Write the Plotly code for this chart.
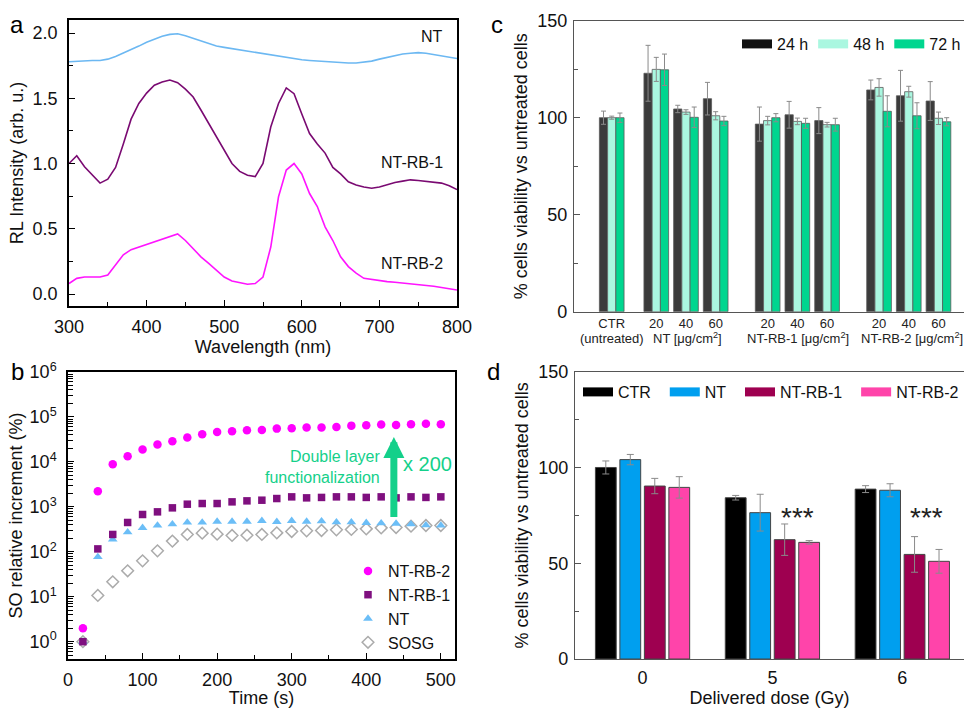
import plotly.graph_objects as go
import math

# ---------------- Panel a: RL spectra ----------------
wavelength = list(range(300, 801, 10))
rl_nt = [1.78, 1.785, 1.79, 1.79, 1.79, 1.80, 1.82, 1.845, 1.87, 1.90,
         1.93, 1.955, 1.975, 1.99, 1.995, 1.98, 1.96, 1.94, 1.92, 1.90,
         1.89, 1.88, 1.87, 1.86, 1.85, 1.845, 1.835, 1.82, 1.81, 1.80,
         1.795, 1.79, 1.785, 1.78, 1.775, 1.77, 1.77, 1.77, 1.775, 1.785,
         1.80, 1.815, 1.83, 1.84, 1.845, 1.85, 1.845, 1.835, 1.825, 1.815, 1.805]
rl_rb1 = [1.00, 1.06, 0.975, 0.91, 0.85, 0.88, 0.97, 1.15, 1.34, 1.46,
          1.54, 1.60, 1.625, 1.64, 1.62, 1.57, 1.51, 1.41, 1.31, 1.20,
          1.10, 1.00, 0.94, 0.91, 0.90, 1.00, 1.28, 1.46, 1.58, 1.535,
          1.38, 1.23, 1.15, 1.08, 0.97, 0.92, 0.86, 0.835, 0.82, 0.81,
          0.82, 0.84, 0.855, 0.865, 0.875, 0.87, 0.865, 0.86, 0.85, 0.83, 0.80]
rl_rb2 = [0.08, 0.12, 0.13, 0.13, 0.13, 0.145, 0.22, 0.30, 0.34, 0.36,
          0.385, 0.405, 0.425, 0.44, 0.46, 0.41, 0.35, 0.285, 0.235, 0.18,
          0.13, 0.10, 0.085, 0.075, 0.08, 0.13, 0.36, 0.745, 0.95, 1.00,
          0.92, 0.77, 0.67, 0.515, 0.41, 0.285, 0.21, 0.16, 0.12, 0.11,
          0.10, 0.095, 0.09, 0.085, 0.08, 0.075, 0.065, 0.06, 0.05, 0.04, 0.03]

# ---------------- Panel b: SO relative increment ----------------
time_s = list(range(20, 501, 20))
so_rb2 = [2.0, 2230, 8870, 13400, 18800, 24300, 28800, 34700, 41200, 46400,
          47900, 50300, 51300, 55000, 56000, 58000, 58000, 60000, 64100, 65300,
          67600, 66000, 68700, 70800, 68700]
so_rb1 = [1.0, 116, 243, 449, 676, 774, 950, 1146, 1186, 1186,
          1291, 1359, 1406, 1531, 1668, 1585, 1620, 1668, 1668, 1620,
          1668, 1585, 1668, 1620, 1668]
so_nt = [1.0, 77, 188, 273, 341, 385, 412, 449, 449, 472,
         472, 472, 489, 464, 489, 472, 480, 456, 456, 441,
         434, 426, 412, 392, 385]
so_sosg = [1.0, 10.7, 21.5, 37.8, 63, 105, 173, 243, 260, 247,
           231, 234, 243, 264, 283, 293, 298, 308, 314, 324,
           341, 347, 372, 385, 385]
arrow_from = 550
arrow_to = 36000
arrow_time = 437

# ---------------- Panel c: viability vs concentration ----------------
c_ticklabels = ["CTR", "20", "40", "60", "20", "40", "60", "20", "40", "60"]
c_groups = ["(untreated)", "NT [μg/cm<sup>2</sup>]", "NT-RB-1 [μg/cm<sup>2</sup>]", "NT-RB-2 [μg/cm<sup>2</sup>]"]
via_24 = [100, 122.9, 104.5, 109.8, 96.7, 101.5, 98.5, 114.3, 111.3, 108.6]
err_24 = [3.4, 14.4, 1.9, 8.4, 8.8, 6.9, 6.7, 5.1, 13.1, 10.0]
via_48 = [100, 124.9, 102.9, 101.0, 98.5, 98.1, 96.4, 115.6, 113.4, 99.7]
err_48 = [0.8, 6.2, 1.2, 2.1, 2.2, 1.7, 1.2, 4.5, 2.8, 3.2]
via_72 = [100, 124.7, 100.2, 98.3, 100.0, 97.1, 96.4, 103.3, 101.0, 97.9]
err_72 = [2.4, 8.1, 5.3, 2.4, 2.1, 2.6, 3.3, 8.0, 6.7, 2.1]

# ---------------- Panel d: viability vs dose ----------------
dose = ["0", "5", "6"]
d_ctr = [100, 84.2, 88.7]
d_ctr_err = [3.4, 1.2, 1.8]
d_nt = [104.1, 76.4, 88.1]
d_nt_err = [2.7, 9.6, 3.4]
d_rb1 = [90.3, 62.3, 54.6]
d_rb1_err = [4.0, 8.2, 9.3]
d_rb2 = [89.6, 60.9, 51.0]
d_rb2_err = [5.6, 0.9, 6.2]

# ---------------- layout helpers ----------------
W, H = 964, 708
FONT = "Liberation Sans, Arial, sans-serif"
GREEN = "#14D08A"

def px_x(p):
    return p / W

def px_y(p):
    return 1 - p / H

# positions of the bar groups in panel c (layout only)
c_gaps = [0, 1.5, 1, 1, 1.75, 1, 1, 1.75, 1, 1]
c_pos = []
acc = 0
for g in c_gaps:
    acc += g
    c_pos.append(acc)
c_group_pos = [0, 2.56, 6.27, 10.1]

fig = go.Figure()

# Panel a
for yv, col, nm in [(rl_nt, "#6CB8F2", "NT"), (rl_rb1, "#7A0A72", "NT-RB-1"), (rl_rb2, "#FF14FF", "NT-RB-2")]:
    fig.add_trace(go.Scatter(x=wavelength, y=yv, mode="lines", name=nm,
                             line=dict(color=col, width=1.6), showlegend=False,
                             xaxis="x", yaxis="y"))

# Panel b
b_series = [
    (so_rb2, "NT-RB-2", dict(symbol="circle", size=8.5, color="#FF00FF")),
    (so_rb1, "NT-RB-1", dict(symbol="square", size=7.5, color="#7F0F7F")),
    (so_nt, "NT", dict(symbol="triangle-up", size=8.5, color="#6BBEF7")),
    (so_sosg, "SOSG", dict(symbol="diamond-open", size=9, color="#ABABAB", line=dict(width=1.5, color="#ABABAB"))),
]
ranks = {"NT-RB-2": 1, "NT-RB-1": 2, "NT": 3, "SOSG": 4}
for yv, nm, mk in b_series[::-1]:
    fig.add_trace(go.Scatter(x=time_s, y=yv, mode="markers", name=nm, marker=mk,
                             legend="legend", legendrank=ranks[nm],
                             xaxis="x2", yaxis="y2"))

# Panel c
c_cols = [("24 h", via_24, err_24, "#3B3B3B", "#111111"),
          ("48 h", via_48, err_48, "#AAF7E0", "#AAF7E0"),
          ("72 h", via_72, err_72, "#00D68F", "#00D68F")]
bw = 0.277
for k, (nm, vals, errs, col, lcol) in enumerate(c_cols):
    fig.add_trace(go.Bar(x=c_pos, y=vals, name=nm, width=bw, offset=-1.5 * bw + k * bw,
                         marker=dict(color=col, line=dict(color="#5A5A5A", width=0.8)),
                         error_y=dict(type="data", array=errs, color="#8A8A8A", thickness=1, width=2.5),
                         showlegend=False, xaxis="x3", yaxis="y3"))
    fig.add_trace(go.Scatter(x=[None], y=[None], mode="lines", name=nm,
                             line=dict(color=lcol, width=9), legend="legend2",
                             xaxis="x3", yaxis="y3"))

# Panel d
d_series = [("CTR", d_ctr, d_ctr_err, "#000000"),
            ("NT", d_nt, d_nt_err, "#009FEF"),
            ("NT-RB-1", d_rb1, d_rb1_err, "#9E0050"),
            ("NT-RB-2", d_rb2, d_rb2_err, "#FF44AA")]
for i, (nm, vals, errs, col) in enumerate(d_series):
    fig.add_trace(go.Bar(x=dose, y=vals, name=nm,
                         marker=dict(color=col, line=dict(color="#444444", width=1)),
                         error_y=dict(type="data", array=errs, color="#8A8A8A", thickness=1, width=3.5),
                         showlegend=False, xaxis="x4", yaxis="y4"))
    pad = "\u00a0\u00a0" if i < len(d_series) - 1 else ""
    fig.add_trace(go.Scatter(x=[None], y=[None], mode="lines", name=nm + pad,
                             line=dict(color=col, width=9), legend="legend3",
                             xaxis="x4", yaxis="y4"))

base_axis = dict(showgrid=False, zeroline=False, showline=True, linecolor="black",
                 linewidth=1.5, ticks="inside", ticklen=6, tickcolor="black", tickwidth=1.2,
                 automargin=False,
                 tickfont=dict(size=18, color="#111"), title_font=dict(size=18, color="#111"))

fig.update_layout(
    template="none",
    width=W, height=H, margin=dict(l=0, r=0, t=0, b=0, autoexpand=False),
    paper_bgcolor="white", plot_bgcolor="white",
    font=dict(family=FONT, color="#111"),
    barmode="group", bargap=0.246, bargroupgap=0.15,
    xaxis=dict(base_axis, domain=[px_x(69), px_x(457)], anchor="y", range=[300, 800],
               dtick=100, mirror=True, ticklabelstandoff=4,
               minor=dict(ticks="inside", ticklen=4, dtick=50, tickcolor="black", showgrid=False),
               title=dict(text="Wavelength (nm)", standoff=1)),
    yaxis=dict(base_axis, domain=[px_y(306), px_y(20)], anchor="x", range=[-0.092, 2.1],
               dtick=0.5, tickformat=".1f", mirror=True, ticklabelstandoff=6,
               minor=dict(ticks="inside", ticklen=4, dtick=0.25, tickcolor="black", showgrid=False),
               title=dict(text="RL Intensity (arb. u.)", standoff=4)),
    xaxis2=dict(base_axis, domain=[px_x(68), px_x(455)], anchor="y2", range=[0, 519],
                dtick=100, mirror=True, ticklabelstandoff=4,
                minor=dict(ticks="inside", ticklen=4, dtick=50, tickcolor="black", showgrid=False),
                title=dict(text="Time (s)", standoff=4)),
    yaxis2=dict(base_axis, domain=[px_y(659), px_y(372)], anchor="x2", type="log",
                range=[-0.385, 6], mirror=True, ticklabelstandoff=6,
                tickvals=[10 ** k for k in range(7)],
                ticktext=["10<sup>%d</sup>" % k for k in range(7)],
                minor=dict(ticks="inside", ticklen=5, tickcolor="black", dtick="D1", showgrid=False),
                title=dict(text="SO relative increment (%)", standoff=2)),
    xaxis3=dict(base_axis, domain=[px_x(574), 1.0], anchor="y3", range=[-1.27, 11.86],
                tickvals=c_pos, ticktext=c_ticklabels, ticks="", mirror=True,
                linecolor="#555", linewidth=1.2, tickfont=dict(size=13, color="#222")),
    yaxis3=dict(base_axis, domain=[px_y(311.7), px_y(20.7)], anchor="x3", range=[0, 150],
                dtick=50, mirror=False, linecolor="#555", linewidth=1.2, tickcolor="#555",
                ticklabelstandoff=2,
                minor=dict(ticks="inside", ticklen=4, dtick=25, tickcolor="#555", showgrid=False),
                title=dict(text="% cells viability vs untreated cells", standoff=4)),
    xaxis4=dict(base_axis, domain=[px_x(575), 1.0], anchor="y4", type="category",
                range=[-0.52, 2.475], ticks="", mirror=True, linecolor="#555",
                linewidth=1.2, ticklabelstandoff=2,
                title=dict(text="Delivered dose (Gy)", standoff=9)),
    yaxis4=dict(base_axis, domain=[px_y(659), px_y(371.7)], anchor="x4", range=[0, 150],
                dtick=50, mirror=False, linecolor="#555", linewidth=1.2, tickcolor="#555",
                ticklabelstandoff=2,
                minor=dict(ticks="inside", ticklen=4, dtick=25, tickcolor="#555", showgrid=False),
                title=dict(text="% cells viability vs untreated cells", standoff=4)),
    legend=dict(x=px_x(348), y=px_y(554), xanchor="left", yanchor="top",
                bgcolor="rgba(0,0,0,0)", font=dict(size=16, color="#111"),
                tracegroupgap=0, itemwidth=30),
    legend2=dict(orientation="h", x=px_x(737), y=px_y(27), xanchor="left", yanchor="top",
                 bgcolor="rgba(0,0,0,0)", font=dict(size=16, color="#111")),
    legend3=dict(orientation="h", x=px_x(578), y=px_y(375), xanchor="left", yanchor="top",
                 bgcolor="rgba(0,0,0,0)", font=dict(size=16, color="#111")),
)

annotations = []
# panel letters
for txt, x, y in [("a", 17, 24), ("b", 17, 371), ("c", 497, 24), ("d", 494, 371)]:
    annotations.append(dict(text=txt, x=px_x(x), y=px_y(y), xref="paper", yref="paper",
                            showarrow=False, font=dict(size=24, color="black"),
                            xanchor="center", yanchor="middle"))
# panel a curve labels
for txt, yv in [("NT", 1.97), ("NT-RB-1", 1.01), ("NT-RB-2", 0.23)]:
    annotations.append(dict(text=txt, x=785, y=yv, xref="x", yref="y", showarrow=False,
                            xanchor="right", yanchor="middle", font=dict(size=16, color="#111")))
# panel b arrow and labels
annotations.append(dict(text="", x=arrow_time, y=math.log10(arrow_to), ax=arrow_time,
                        ay=math.log10(arrow_from), xref="x2", yref="y2", axref="x2", ayref="y2",
                        showarrow=True, arrowhead=2, arrowsize=0.6, arrowwidth=7,
                        arrowcolor=GREEN, standoff=0, startstandoff=0))
annotations.append(dict(text="Double layer<br>functionalization", x=px_x(382), y=px_y(467),
                        xref="paper", yref="paper", showarrow=False, xanchor="right",
                        align="right", yanchor="middle", font=dict(size=16, color=GREEN)))
annotations.append(dict(text="x 200", x=px_x(401), y=px_y(464), xref="paper", yref="paper",
                        showarrow=False, xanchor="left", yanchor="middle",
                        font=dict(size=20, color=GREEN)))
# panel c group labels
for txt, xp in zip(c_groups, c_group_pos):
    annotations.append(dict(text=txt, x=xp, y=px_y(338), xref="x3", yref="paper",
                            showarrow=False, xanchor="center", yanchor="middle",
                            font=dict(size=13, color="#222")))
# panel d significance
for xp in [1.19, 2.19]:
    annotations.append(dict(text="***", x=xp, y=74, xref="x4", yref="y4", showarrow=False,
                            xanchor="center", yanchor="middle", font=dict(size=28, color="#222")))
fig.update_layout(annotations=annotations)

fig.write_html("out.html", config={"displayModeBar": False},
               post_script="document.body.style.margin='0px';document.body.style.overflow='hidden';")
